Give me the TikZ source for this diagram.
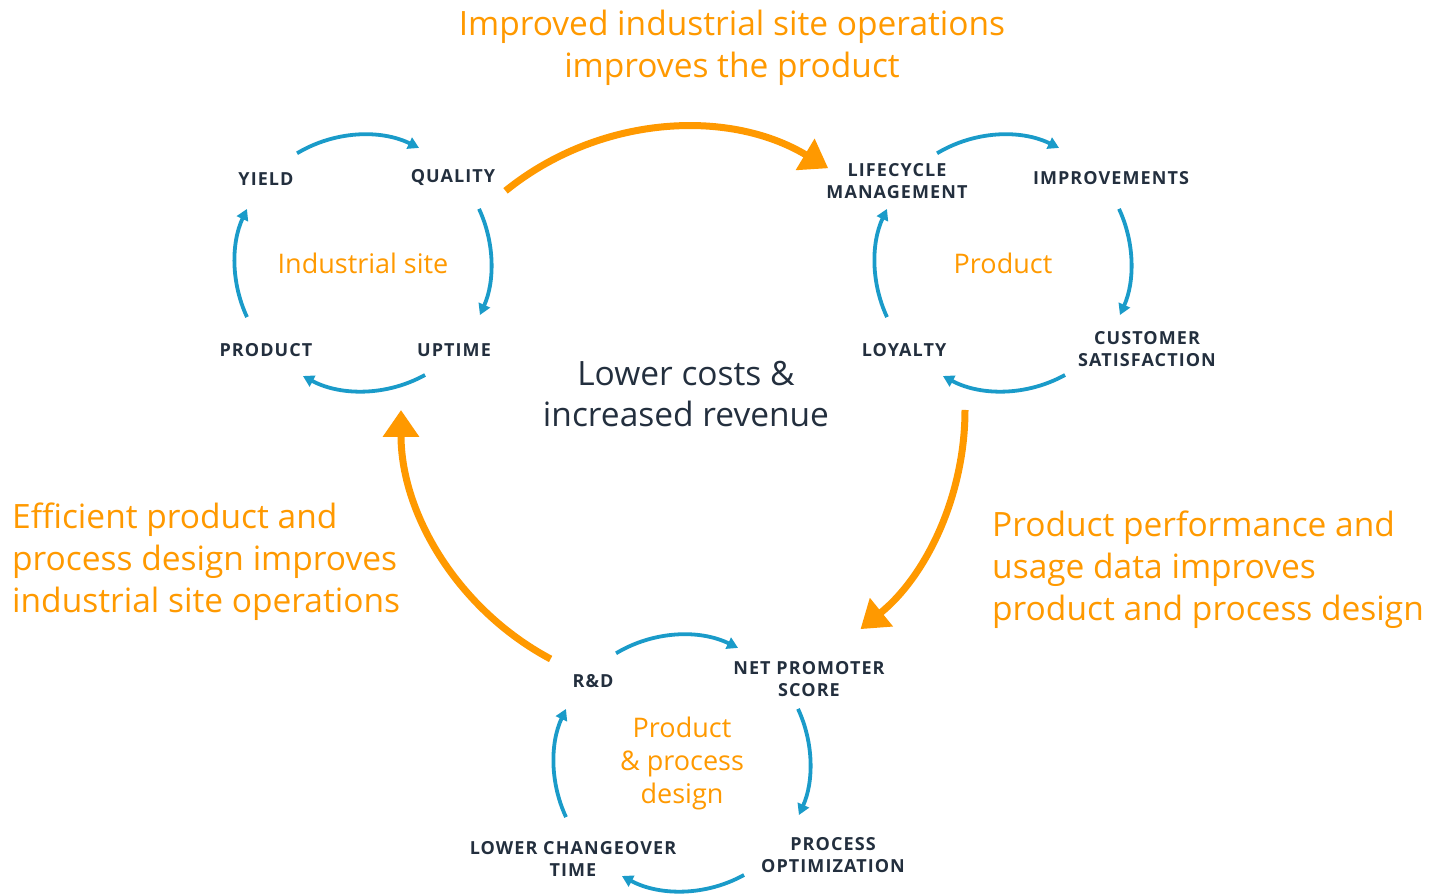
\documentclass[tikz,border=0pt]{standalone}
\usepackage{fontspec}
\setmainfont{Open Sans}
\newfontfamily\tagfont{Open Sans}[LetterSpace=6]
\usetikzlibrary{arrows.meta, calc}
\definecolor{awsorange}{HTML}{FF9900}
\definecolor{awsblue}{HTML}{1A9BC9}
\definecolor{awsink}{HTML}{232F3E}
\tikzset{
  tag/.style={text=awsink, align=center, inner sep=0pt,
    font=\tagfont\bfseries\fontsize{18}{22}\selectfont},
  hub/.style={text=awsorange, align=center, inner sep=0pt,
    font=\fontsize{27}{33}\selectfont},
  note/.style={text=awsorange, align=left, inner sep=0pt,
    font=\fontsize{33.5}{42}\selectfont},
  cyc/.style={draw=awsblue, line width=3.8pt, -{Triangle[length=11pt,width=12pt]}},
  flow/.style={draw=awsorange, line width=7pt, -{Triangle[length=27pt,width=35pt]}}
}
\begin{document}
\begin{tikzpicture}[x=1pt, y=1pt]
  \useasboundingbox (0,0) rectangle (1441,894);
  % centres of the loops
  \coordinate (site) at (363,631);
  \coordinate (prod) at (1003,631);
  \coordinate (desg) at (682,131);
  \coordinate (mid)  at (683,484);

  \node[note, align=center] (title) at (732,846)
    {Improved industrial site operations\\improves the product};
  \node[text=awsink, align=center, inner sep=0pt,
        font=\fontsize{33.5}{41}\selectfont] (gain) at (686,500)
    {Lower costs \&\\increased revenue};
  \node[note, anchor=west] (leftnote) at (12,332)
    {Efficient product and\\process design improves\\industrial site operations};
  \node[note, anchor=west] (rightnote) at (992,324)
    {Product performance and\\usage data improves\\product and process design};

  % industrial site
  \node[hub] (sitehub) at (site) {Industrial site};
  \node[tag] (yield)   at (266,715) {YIELD};
  \node[tag] (quality) at (453,716) {QUALITY};
  \node[tag] (product) at (266,544) {PRODUCT};
  \node[tag] (uptime)  at (454,544) {UPTIME};

  % product
  \node[hub] (prodhub) at (prod) {Product};
  \node[tag] (life)    at (897,713) {LIFECYCLE\\MANAGEMENT};
  \node[tag] (improve) at (1111,716) {IMPROVEMENTS};
  \node[tag] (loyal)   at (904,544) {LOYALTY};
  \node[tag] (custsat) at (1147,545) {CUSTOMER\\SATISFACTION};

  % product and process design
  \node[hub] (desghub) at (desg) {Product\\\& process\\design};
  \node[tag] (rnd)     at (593,213) {R\&D};
  \node[tag] (nps)     at (809,215) {NET PROMOTER\\SCORE};
  \node[tag] (change)  at (573,35) {LOWER CHANGEOVER\\TIME};
  \node[tag] (procopt) at (833,39) {PROCESS\\OPTIMIZATION};

  % the small loops
  \foreach \c in {site, prod, desg}
    \foreach \a/\b in {121/64, 25/-24, -61/-118, 205/155}
      \draw[cyc] ($(\c)+(\a:128)$) arc[start angle=\a, end angle=\b, radius=128];

  % the big loop
  \draw[flow] ($(mid)+(129:282)$) arc[start angle=129, end angle=59, radius=282];
  \draw[flow] ($(mid)+(0:282)$) arc[start angle=0, end angle=-51, radius=282];
  \draw[flow] ($(mid)+(-118:282)$) arc[start angle=-118, end angle=-180, radius=282];
\end{tikzpicture}
\end{document}
